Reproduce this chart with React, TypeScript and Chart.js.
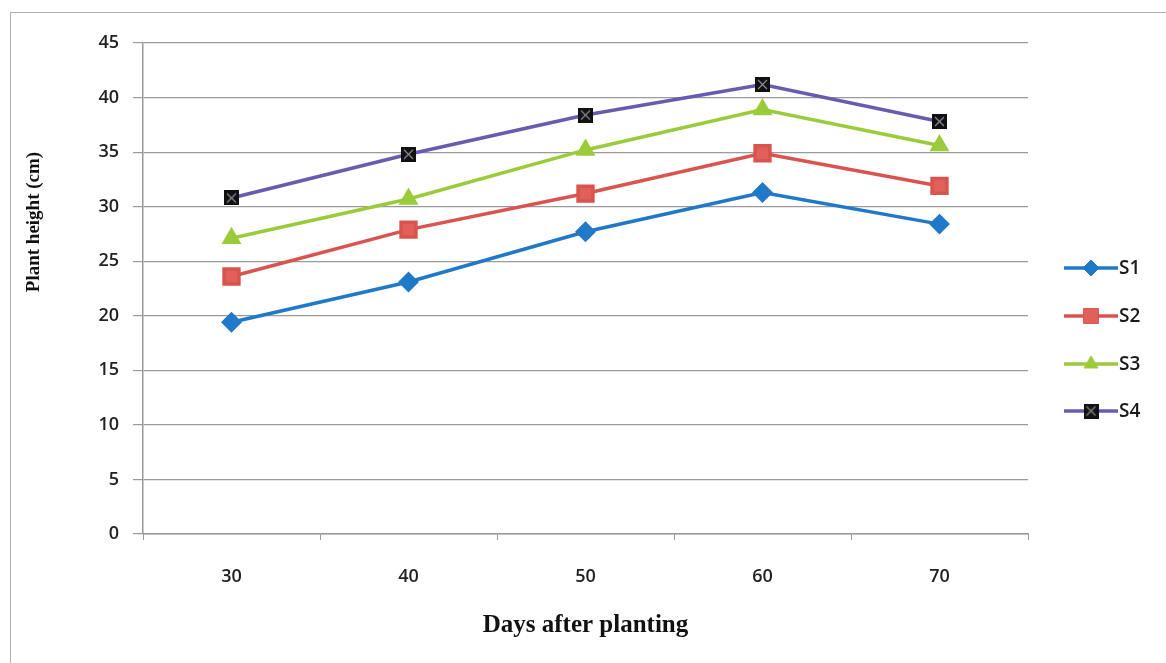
import React, { useEffect, useRef } from "react";
import { Chart, registerables } from "chart.js";
import { drawPoint } from "chart.js/helpers";

Chart.register(...registerables);

// Days after planting
const days = ["30", "40", "50", "60", "70"];

// Plant height (cm) per treatment
const s1 = [19.4, 23.1, 27.7, 31.3, 28.4];
const s2 = [23.6, 27.9, 31.2, 34.9, 31.9];
const s3 = [27.1, 30.7, 35.2, 38.9, 35.6];
const s4 = [30.8, 34.8, 38.4, 41.2, 37.8];

const seriesNames = ["S1", "S2", "S3", "S4"];

const yTitle = "Plant height (cm)";
const xTitle = "Days after planting";

// Black square marker with a faint cross, used for S4
function makeCrossSquare(): HTMLCanvasElement {
  const c = document.createElement("canvas");
  c.width = 15;
  c.height = 15;
  const g = c.getContext("2d")!;
  g.fillStyle = "#111";
  g.fillRect(0, 0, 15, 15);
  g.strokeStyle = "#8a8a9a";
  g.lineWidth = 1.2;
  g.beginPath();
  g.moveTo(3, 3);
  g.lineTo(12, 12);
  g.moveTo(12, 3);
  g.lineTo(3, 12);
  g.stroke();
  return c;
}

const sansFamily = "'Open Sans', 'Liberation Sans', sans-serif";
const serifFamily = "'Liberation Serif', 'DejaVu Serif', serif";

const sideLegend = {
  id: "sideLegend",
  afterDraw(chart: any) {
    const ctx = chart.ctx;
    const x1 = 1064;
    const x2 = 1118;
    const ys = [268, 316, 364, 411];
    chart.data.datasets.forEach((ds: any, i: number) => {
      const y = ys[i];
      ctx.save();
      ctx.strokeStyle = ds.borderColor;
      ctx.lineWidth = 3.5;
      ctx.beginPath();
      ctx.moveTo(x1, y);
      ctx.lineTo(x2, y);
      ctx.stroke();
      ctx.fillStyle = ds.pointBackgroundColor;
      ctx.strokeStyle = ds.pointBorderColor;
      ctx.lineWidth = 1;
      drawPoint(ctx, { pointStyle: ds.pointStyle, radius: ds.pointRadius, borderWidth: 1, rotation: 0 }, (x1 + x2) / 2, y);
      ctx.fillStyle = "#1a1a1a";
      ctx.font = `600 19px ${sansFamily}`;
      ctx.textAlign = "left";
      ctx.textBaseline = "middle";
      ctx.fillText(seriesNames[i], x2 + 1, y + 1);
      ctx.restore();
    });
  },
};

const yAxisTitle = {
  id: "yAxisTitle",
  afterDraw(chart: any) {
    const ctx = chart.ctx;
    ctx.save();
    ctx.translate(34, 222);
    ctx.rotate(-Math.PI / 2);
    ctx.fillStyle = "#111";
    ctx.font = `bold 19px ${serifFamily}`;
    ctx.textAlign = "center";
    ctx.textBaseline = "middle";
    ctx.fillText(yTitle, 0, 0);
    ctx.restore();
  },
};

export default function App() {
  const ref = useRef<HTMLCanvasElement>(null);

  useEffect(() => {
    const cross = makeCrossSquare();
    const tickFont = { family: sansFamily, size: 18, weight: "600" as any };
    const chart = new Chart(ref.current!, {
      type: "line",
      data: {
        labels: days,
        datasets: [
          {
            label: seriesNames[0],
            data: s1,
            borderColor: "#1f78c8",
            backgroundColor: "#1f78c8",
            pointBackgroundColor: "#1f78c8",
            pointBorderColor: "#1f78c8",
            pointStyle: "rectRot",
            pointRadius: 8,
            borderWidth: 3.5,
          },
          {
            label: seriesNames[1],
            data: s2,
            borderColor: "#d9534f",
            backgroundColor: "#e0605a",
            pointBackgroundColor: "#e0605a",
            pointBorderColor: "#d9534f",
            pointStyle: "rect",
            pointRadius: 10.5,
            borderWidth: 3.5,
          },
          {
            label: seriesNames[2],
            data: s3,
            borderColor: "#9bcb3b",
            backgroundColor: "#9bcb3b",
            pointBackgroundColor: "#9bcb3b",
            pointBorderColor: "#9bcb3b",
            pointStyle: "triangle",
            pointRadius: 8,
            borderWidth: 3.5,
          },
          {
            label: seriesNames[3],
            data: s4,
            borderColor: "#6a5bb0",
            backgroundColor: "#111",
            pointBackgroundColor: "#111",
            pointBorderColor: "#111",
            pointStyle: cross as any,
            pointRadius: 8,
            borderWidth: 3.5,
          },
        ],
      },
      options: {
        animation: false,
        responsive: false,
        events: [],
        layout: { padding: { left: 0, right: 138, top: 43, bottom: 0 } },
        plugins: {
          legend: { display: false },
          tooltip: { enabled: false },
        },
        scales: {
          x: {
            offset: true,
            grid: {
              offset: true,
              drawOnChartArea: false,
              color: "#9a9a9a",
              tickLength: 6,
            },
            border: { display: true, color: "#9a9a9a", width: 1.5 },
            ticks: { color: "#222", font: tickFont, padding: 26 },
            title: {
              display: true,
              text: xTitle,
              color: "#111",
              font: { family: serifFamily, size: 25, weight: "bold" },
              padding: { top: 0, bottom: 22 },
            },
            afterFit(scale: any) {
              scale.height = 129;
            },
          },
          y: {
            min: 0,
            max: 45,
            ticks: { stepSize: 5, color: "#222", font: tickFont, padding: 14 },
            grid: { color: "#9a9a9a", tickLength: 10, lineWidth: 1.2 },
            border: { display: true, color: "#9a9a9a", width: 1.5 },
            afterFit(scale: any) {
              scale.width = 143;
            },
          },
        },
      },
      plugins: [sideLegend, yAxisTitle],
    });
    return () => chart.destroy();
  }, []);

  return (
    <div
      style={{
        position: "fixed",
        left: 0,
        top: 0,
        width: 1166,
        height: 663,
        background: "#fff",
        overflow: "hidden",
      }}
    >
      <div
        style={{
          position: "absolute",
          left: 10,
          top: 12,
          width: 1200,
          height: 700,
          border: "1px solid #b0b0b0",
        }}
      />
      <canvas ref={ref} width={1166} height={663} style={{ position: "absolute", left: 0, top: 0 }} />
    </div>
  );
}
